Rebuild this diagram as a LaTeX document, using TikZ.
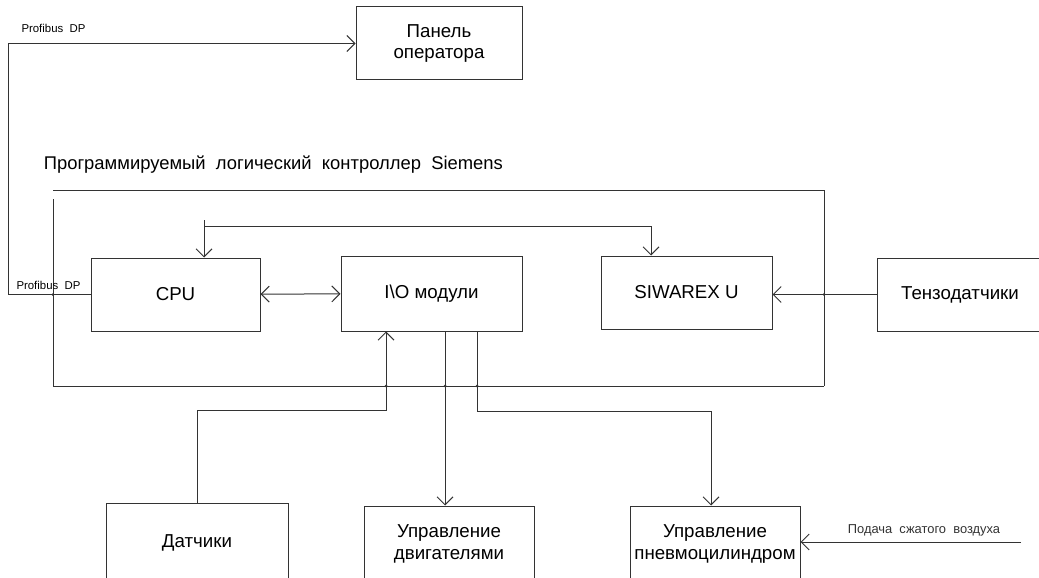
\documentclass[tikz,border=0pt]{standalone}
\usepackage{fontspec}
\setmainfont{Liberation Sans}
\usetikzlibrary{arrows.meta}

\begin{document}
\begin{tikzpicture}[x=1pt, y=-1pt, line width=1pt,
	>={Straight Barb[length=8pt, width=16pt]},
	block/.style={draw=black!80, align=center, inner sep=1pt,
		font=\fontsize{18.7}{21.5}\selectfont},
	lbl/.style={inner sep=1pt, font=\fontsize{11.4}{13}\selectfont},
	joint/.style={circle, fill=black!80, inner sep=0pt, minimum size=3pt}]
	\useasboundingbox (0,0) rectangle (1039,578);
	\clip (0,0) rectangle (1039,578);

	\node [block, minimum width=166pt, minimum height=73pt] (panel) at (439,43.5) {Панель\\оператора};
	\node [lbl, anchor=west] (pdpTop) at (20,28) {Profibus\ \ DP};
	\node [anchor=west, font=\fontsize{18.4}{21}\selectfont] (plc) at (40,165)
		{Программируемый\ \ логический\ \ контроллер\ \ Siemens};

	\draw [black!80] (53,190) -- (824,190) -- (824,386);
	\draw [black!80] (53,199) -- (53,386) -- (824,386);

	\node [block, minimum width=169pt, minimum height=73pt] (cpu) at (175.5,294.5) {CPU};
	\node [block, minimum width=181pt, minimum height=75pt] (io) at (431.5,293.5) {I\textbackslash O модули};
	\node [block, minimum width=171pt, minimum height=73pt] (siwarex) at (686.5,292.5) {SIWAREX U};
	\node [block, minimum width=166pt, minimum height=73pt] (tenzo) at (960,294.5) {Тензодатчики};
	\node [lbl, anchor=west] (pdpLow) at (15,285) {Profibus\ \ DP};

	\node [block, minimum width=182pt, minimum height=80pt] (datch) at (197,543) {Датчики};
	\node [block, minimum width=170pt, minimum height=76pt] (dvig) at (449,544) {Управление\\двигателями};
	\node [block, minimum width=170pt, minimum height=76pt] (pneu) at (715,544) {Управление\\пневмоцилиндром};

	\coordinate (busL) at (204,226);
	\coordinate (busR) at (651,226);
	\coordinate (sensIn) at (386,410);
	\coordinate (motOut) at (445,386);
	\coordinate (cylOut) at (477,411);
	\coordinate (cylIn) at (711,411);
	\coordinate (air) at (1021,542);

	\draw [black!80, ->] (cpu.west) -- ++(-82,0) |- (panel.west);
	\draw [black!80, <->] (cpu) -- (io);
	\draw [black!80, ->] (204,220) -- (cpu.north -| busL);
	\draw [black!80, ->] (busL) -- (busR) -- (siwarex.north -| busR);
	\draw [black!80, ->] (tenzo.west) -- (tenzo.west -| siwarex.east);
	\draw [black!80, ->] (datch.north) |- (sensIn) -- (io.south -| sensIn);
	\draw [black!80, ->] (io.south -| motOut) -- (dvig.north -| motOut);
	\draw [black!80, ->] (io.south -| cylOut) -- (cylOut) -- (cylIn) -- (pneu.north -| cylIn);
	\draw [black!80, ->] (air) -- node [lbl, above=4pt, pos=0.44, font=\fontsize{12.9}{15}\selectfont] (airLbl)
		{Подача\ \ сжатого\ \ воздуха} (air -| pneu.east);

	\node [joint] (j1) at (53,294.5) {};
	\node [joint] (j2) at (824,294.5) {};
	\node [joint] (j3) at (sensIn |- 0,386) {};
	\node [joint] (j4) at (motOut) {};
	\node [joint] (j5) at (cylOut |- 0,386) {};
\end{tikzpicture}
\end{document}
